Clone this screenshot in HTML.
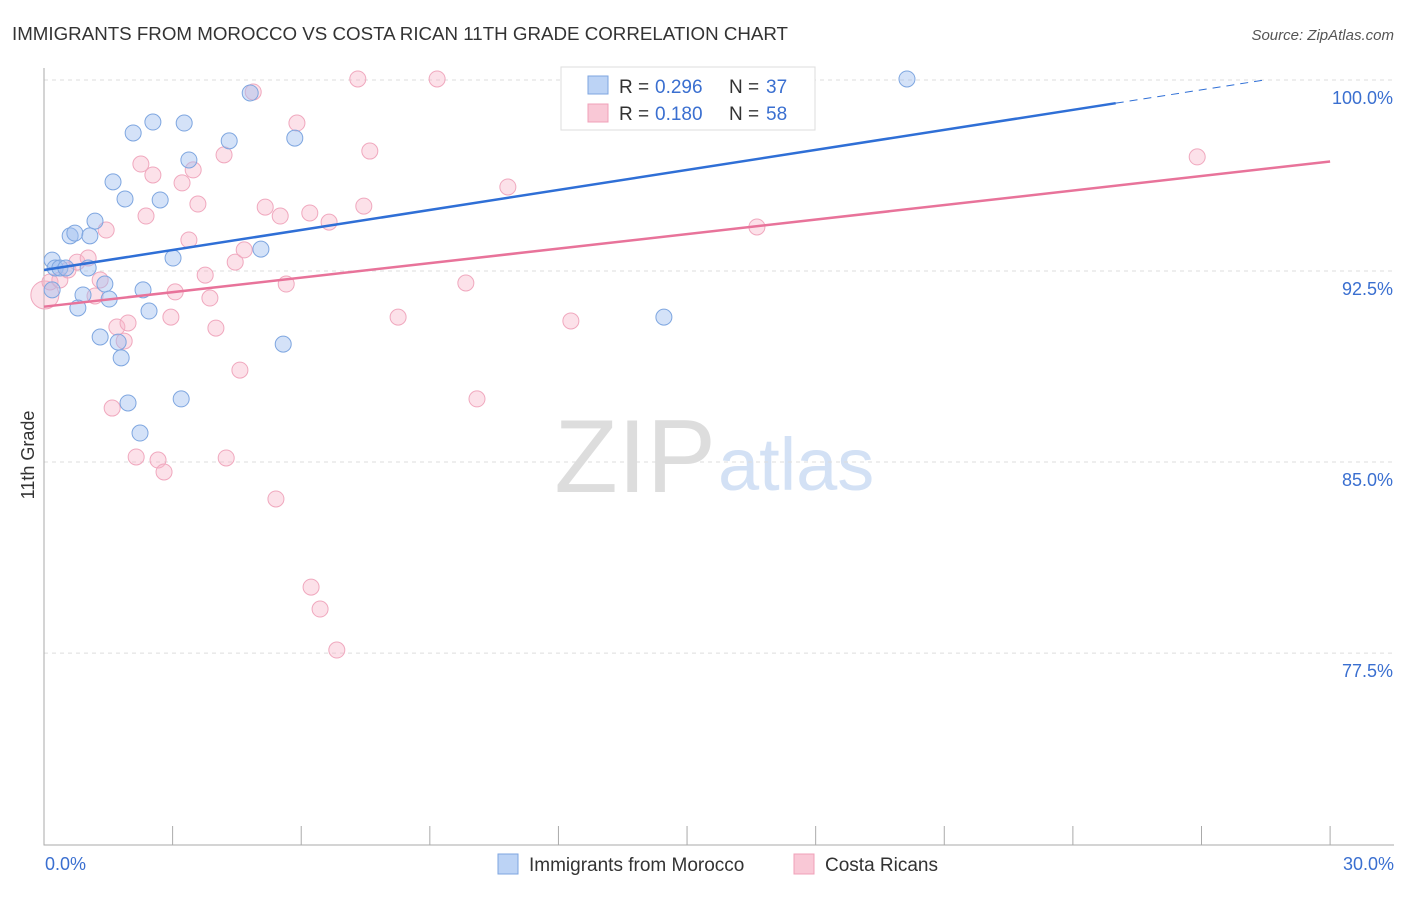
<!DOCTYPE html>
<html><head><meta charset="utf-8"><style>
body{margin:0;background:#fff;font-family:"Liberation Sans",sans-serif}
svg text{font-family:"Liberation Sans",sans-serif}
</style></head><body>
<svg id="c" width="1406" height="892">
<text x="12" y="40" font-size="18" fill="#333" textLength="776" lengthAdjust="spacingAndGlyphs">IMMIGRANTS FROM MOROCCO VS COSTA RICAN 11TH GRADE CORRELATION CHART</text>
<text x="1394" y="40" font-size="15" fill="#555" font-style="italic" text-anchor="end">Source: ZipAtlas.com</text>
<text x="34" y="455" font-size="18" fill="#333" transform="rotate(-90 34 455)" text-anchor="middle">11th Grade</text>
<text x="716" y="492" font-size="104" fill="#ddd" text-anchor="end" font-family="Liberation Serif">ZIP</text>
<text x="718" y="490" font-size="74" fill="#d3e1f5">atlas</text>
<g id="grid"></g><g id="axes"></g><g id="pts"></g><g id="trend"></g>
<g>
<rect x="561" y="67" width="254" height="63" fill="#fff" stroke="#ddd"/>
<rect x="588" y="76" width="20" height="18" fill="#bcd3f5" stroke="#7ea6e0"/>
<text x="619" y="93" font-size="19" fill="#333">R = </text><text x="655" y="93" font-size="19" fill="#3a6fd0">0.296</text>
<text x="729" y="93" font-size="19" fill="#333">N = </text><text x="766" y="93" font-size="19" fill="#3a6fd0">37</text>
<rect x="588" y="104" width="20" height="18" fill="#f9c8d6" stroke="#f0a0b8"/>
<text x="619" y="120" font-size="19" fill="#333">R = </text><text x="655" y="120" font-size="19" fill="#3a6fd0">0.180</text>
<text x="729" y="120" font-size="19" fill="#333">N = </text><text x="766" y="120" font-size="19" fill="#3a6fd0">58</text>
</g>
<g>
<rect x="498" y="854" width="20" height="20" fill="#bcd3f5" stroke="#7ea6e0"/>
<text x="529" y="871" font-size="19" fill="#333">Immigrants from Morocco</text>
<rect x="794" y="854" width="20" height="20" fill="#f9c8d6" stroke="#f0a0b8"/>
<text x="825" y="871" font-size="19" fill="#333">Costa Ricans</text>
</g>
</svg>
<script>
const yTicks=[100,92.5,85,77.5];
const yTickLabels=["100.0%","92.5%","85.0%","77.5%"];
const xTicks=[0,3,6,9,12,15,18,21,24,27,30];
const blueX=[0.19,0.26,0.37,0.51,0.61,0.72,1.07,1.19,1.03,0.91,0.79,1.31,1.42,1.52,1.61,1.73,1.80,1.89,1.96,2.08,2.24,2.31,2.45,2.54,2.71,3.01,3.20,3.27,3.38,4.32,4.81,5.06,5.58,5.85,14.46,20.13,0.19];
const blueY=[92.93,92.62,92.62,92.62,93.88,93.99,93.88,94.46,92.62,91.56,91.05,89.91,91.99,91.40,96.00,89.71,89.09,95.33,87.32,97.92,86.14,91.76,90.93,98.35,95.29,93.01,87.48,98.31,96.86,97.61,99.49,93.36,89.63,97.72,90.69,100.04,91.76];
const pinkX=[0.02,0.14,0.37,0.56,0.77,1.03,1.19,1.31,1.45,1.59,1.70,1.87,1.96,2.15,2.26,2.38,2.54,2.66,2.80,2.96,3.06,3.22,3.38,3.48,3.59,3.76,3.87,4.01,4.20,4.25,4.46,4.57,4.67,4.88,5.16,5.41,5.51,5.65,5.90,6.20,6.23,6.44,6.65,6.83,7.32,7.46,7.60,8.26,9.17,9.84,10.10,10.82,12.29,16.63,26.90];
const pinkY=[91.56,92.07,92.15,92.54,92.85,93.01,91.52,92.15,94.11,87.12,90.30,89.75,90.46,85.20,96.70,94.66,96.27,85.08,84.61,90.69,91.68,95.96,93.72,96.47,95.13,92.34,91.44,90.26,97.06,85.16,92.85,88.61,93.33,99.53,95.01,83.55,94.66,91.99,98.31,94.78,80.09,79.23,94.42,77.62,100.04,95.05,97.21,90.69,100.04,92.03,87.48,95.80,90.54,94.23,96.98];
const blueTrend=[92.54,100.4], pinkTrend=[91.1,96.8];
const NS='http://www.w3.org/2000/svg';
const X=v=>44+v*42.87, Y=v=>80+(100-v)*25.47;
function mk(t,a,p){const e=document.createElementNS(NS,t);for(const k in a)e.setAttribute(k,a[k]);p.appendChild(e);return e;}
const grid=document.getElementById('grid'),axes=document.getElementById('axes'),pts=document.getElementById('pts'),tr=document.getElementById('trend');
yTicks.forEach((t,i)=>{
 const l=mk('line',{x1:44,x2:1394,y1:Y(t),y2:Y(t),stroke:'#ddd','stroke-dasharray':'4,4'},grid);
 
 
 const tx=mk('text',{x:1393,y:Y(t)+24,'font-size':18,fill:'#3a6fd0','text-anchor':'end'},grid);
 tx.textContent=yTickLabels[i];
 
 
});
const ax=mk('path',{d:`M44 68V845H1394`,stroke:'#aaa',fill:'none'},axes);


xTicks.forEach(t=>{if(t===0)return;const l=mk('line',{x1:X(t),x2:X(t),y1:826,y2:845,stroke:'#aaa'},axes);
 
 });
let a=mk('text',{x:45,y:870,'font-size':18,fill:'#3a6fd0'},axes);a.textContent='0.0%';


a=mk('text',{x:1394,y:870,'font-size':18,fill:'#3a6fd0','text-anchor':'end'},axes);a.textContent='30.0%';


pinkX.forEach((x,i)=>{const c=mk('circle',{cx:X(x),cy:Y(pinkY[i]),r:i===0?14:8,fill:'rgba(248,180,200,0.4)',stroke:'#f0a8be','stroke-width':1},pts);
 
 });
blueX.forEach((x,i)=>{const c=mk('circle',{cx:X(x),cy:Y(blueY[i]),r:8,fill:'rgba(160,190,240,0.45)',stroke:'#7ea6e0','stroke-width':1},pts);
 
 });
const bAt=v=>blueTrend[0]+(blueTrend[1]-blueTrend[0])*v/30;
let t1=mk('line',{x1:X(0),y1:Y(bAt(0)),x2:X(25),y2:Y(bAt(25)),stroke:'#2f6fd6','stroke-width':2.5},tr);


let t2=mk('line',{x1:X(25),y1:Y(bAt(25)),x2:X(28.5),y2:Y(bAt(28.5)),stroke:'#2f6fd6','stroke-width':1,'stroke-dasharray':'8,6'},tr);


let t3=mk('line',{x1:X(0),y1:Y(pinkTrend[0]),x2:X(30),y2:Y(pinkTrend[1]),stroke:'#e8739a','stroke-width':2.5},tr);


</script>
</body></html>
